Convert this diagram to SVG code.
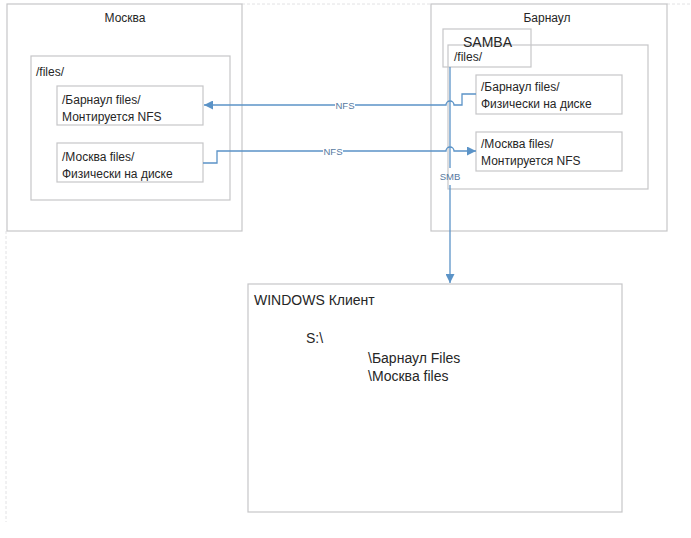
<svg xmlns="http://www.w3.org/2000/svg" width="691" height="538" viewBox="0 0 691 538">
<style>
.box{fill:none;stroke:#c6c6c8;stroke-width:1.2}
.page{fill:none;stroke:#e2e2e4;stroke-width:1;stroke-dasharray:3 2}
.t{font-family:"Liberation Sans",Arial,sans-serif;fill:#262626}
.s{font-size:12px}
.m{font-size:12px}
.l{font-size:14px}
.con{fill:none;stroke:#5b93c7;stroke-width:1.3}
.lbl{font-family:"Liberation Sans",Arial,sans-serif;font-size:9.5px;fill:#56799f;text-anchor:middle}
</style>
<defs>
<marker id="arr" viewBox="0 0 10 10" refX="10" refY="5" markerWidth="9" markerHeight="9" markerUnits="userSpaceOnUse" orient="auto">
<path d="M0 0 L10 5 L0 10 Z" fill="#5b93c7"/>
</marker>
</defs>
<rect width="691" height="538" fill="#ffffff"/>
<g id="page">
<path class="page" d="M242 4 H431 M667 4 H691 M6 231 V522"/>
</g>
<g id="moscow">
<rect class="box" x="7" y="4" width="235" height="227"/>
<text class="t m" x="125" y="22" text-anchor="middle">Москва</text>
</g>
<g id="moscow-files">
<rect class="box" x="31" y="56" width="199" height="144"/>
<text class="t m" x="36" y="76">/files/</text>
</g>
<g id="moscow-barnaul-files">
<rect class="box" x="57" y="86" width="146" height="39"/>
<text class="t s" x="62" y="104">/Барнаул files/</text>
<text class="t s" x="62" y="121">Монтируется NFS</text>
</g>
<g id="moscow-moscow-files">
<rect class="box" x="57" y="143" width="146" height="39"/>
<text class="t s" x="62" y="161">/Москва files/</text>
<text class="t s" x="62" y="178">Физически на диске</text>
</g>
<g id="barnaul">
<rect class="box" x="431" y="4" width="236" height="227"/>
<text class="t m" x="547" y="22" text-anchor="middle">Барнаул</text>
</g>
<g id="barnaul-files">
<rect class="box" x="448" y="45" width="200" height="144"/>
<text class="t m" x="454" y="61">/files/</text>
</g>
<g id="samba">
<rect class="box" x="443" y="29" width="88" height="38"/>
<text class="t l" x="463" y="47">SAMBA</text>
</g>
<g id="barnaul-barnaul-files">
<rect class="box" x="476" y="75" width="146" height="39"/>
<text class="t s" x="481" y="91">/Барнаул files/</text>
<text class="t s" x="481" y="108">Физически на диске</text>
</g>
<g id="barnaul-moscow-files">
<rect class="box" x="476" y="132" width="146" height="39"/>
<text class="t s" x="481" y="148">/Москва files/</text>
<text class="t s" x="481" y="165">Монтируется NFS</text>
</g>
<g id="windows">
<rect class="box" x="248" y="284" width="374" height="228"/>
<text class="t l" x="254" y="305">WINDOWS Клиент</text>
<text class="t l" x="306" y="343">S:\</text>
<text class="t l" x="368" y="363">\Барнаул Files</text>
<text class="t l" x="368" y="381">\Москва files</text>
</g>
<g id="connectors">
<path class="con" d="M476 94 H462 V105 H454 A4 4 0 0 0 446 105 H355"/>
<path class="con" d="M335 105 H204" marker-end="url(#arr)"/>
<text class="lbl" x="345" y="108.5">NFS</text>
<path class="con" d="M203 163 H217 V151 H323"/>
<path class="con" d="M343 151 H446 A4 4 0 0 1 454 151 H476" marker-end="url(#arr)"/>
<text class="lbl" x="333" y="154.5">NFS</text>
<path class="con" d="M450 67 V168"/>
<path class="con" d="M450 185 V283" marker-end="url(#arr)"/>
<text class="lbl" x="450" y="179.5">SMB</text>
</g>
</svg>
